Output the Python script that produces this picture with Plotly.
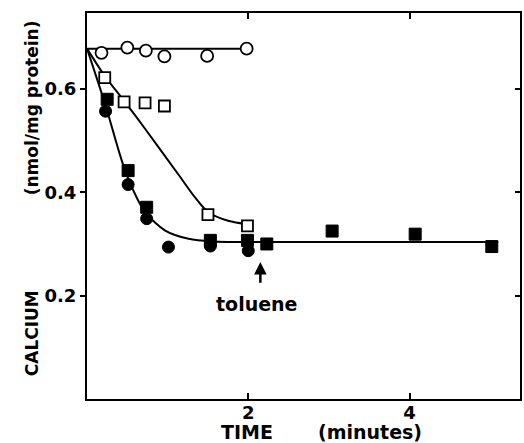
import plotly.graph_objects as go

# ---- data ----
control_t = [0.18, 0.50, 0.73, 0.96, 1.49, 1.98]
control_ca = [0.670, 0.680, 0.674, 0.663, 0.664, 0.678]

open_sq_t = [0.22, 0.46, 0.72, 0.96, 1.50, 1.99]
open_sq_ca = [0.622, 0.575, 0.573, 0.567, 0.357, 0.335]

filled_sq_t = [0.25, 0.51, 0.74, 1.53, 1.99, 2.23, 3.04, 4.07, 5.02]
filled_sq_ca = [0.580, 0.442, 0.371, 0.307, 0.307, 0.300, 0.325, 0.319, 0.295]

filled_ci_t = [0.23, 0.51, 0.74, 1.01, 1.53, 2.00]
filled_ci_ca = [0.557, 0.415, 0.349, 0.294, 0.296, 0.287]

# hand-drawn curves
control_fit_t = [0.0, 2.0]
control_fit_ca = [0.678, 0.678]

open_fit_t = [0.0, 0.22, 0.46, 0.72, 1.14, 1.34, 1.50, 1.75, 2.0]
open_fit_ca = [0.678, 0.625, 0.577, 0.523, 0.433, 0.390, 0.362, 0.345, 0.338]

filled_fit_t = [0.0, 0.23, 0.48, 0.72, 0.97, 1.26, 1.55, 2.5, 5.1]
filled_fit_ca = [0.678, 0.568, 0.439, 0.362, 0.326, 0.310, 0.305, 0.304, 0.304]

x_ticks = [2, 4]
x_tick_labels = ["2", "4"]
y_ticks = [0.2, 0.4, 0.6]
y_tick_labels = ["0.2", "0.4", "0.6"]

toluene_t = 2.15
toluene_head = 0.265
toluene_tail = 0.222

FONT = "DejaVu Sans"
BLACK = "black"

fig = go.Figure()

line_style = dict(color=BLACK, width=2)
for t, ca, shape in [(control_fit_t, control_fit_ca, "linear"),
                     (open_fit_t, open_fit_ca, "spline"),
                     (filled_fit_t, filled_fit_ca, "spline")]:
    fig.add_trace(go.Scatter(x=t, y=ca, mode="lines", line=dict(line_style, shape=shape, smoothing=0.8),
                             hoverinfo="skip", showlegend=False))

fig.add_trace(go.Scatter(x=control_t, y=control_ca, mode="markers", showlegend=False,
                         marker=dict(symbol="circle", size=12, color="white",
                                     line=dict(color=BLACK, width=1.8))))
fig.add_trace(go.Scatter(x=open_sq_t, y=open_sq_ca, mode="markers", showlegend=False,
                         marker=dict(symbol="square", size=11, color="white",
                                     line=dict(color=BLACK, width=1.8))))
fig.add_trace(go.Scatter(x=filled_sq_t, y=filled_sq_ca, mode="markers", showlegend=False,
                         marker=dict(symbol="square", size=12, color=BLACK,
                                     line=dict(color=BLACK, width=1))))
fig.add_trace(go.Scatter(x=filled_ci_t, y=filled_ci_ca, mode="markers", showlegend=False,
                         marker=dict(symbol="circle", size=12, color=BLACK,
                                     line=dict(color=BLACK, width=1))))
# invisible trace to activate right-side axis
fig.add_trace(go.Scatter(x=[0], y=[0], yaxis="y2", mode="markers",
                         marker=dict(opacity=0), hoverinfo="skip", showlegend=False))

tick_font = dict(family=FONT, size=18, color=BLACK, weight="bold")

fig.update_layout(
    width=524, height=443,
    margin=dict(l=87, r=2, t=13, b=44),
    paper_bgcolor="white", plot_bgcolor="white",
    xaxis=dict(range=[0, 5.37], tickvals=x_ticks, ticktext=x_tick_labels,
               ticks="inside", ticklen=6, tickwidth=2, tickcolor=BLACK,
               showline=True, linecolor=BLACK, linewidth=2, mirror="ticks",
               showgrid=False, zeroline=False, tickfont=tick_font,
               ticklabelstandoff=-4),
    yaxis=dict(range=[0, 0.747], tickvals=y_ticks, ticktext=y_tick_labels,
               ticks="outside", ticklen=5, tickwidth=2, tickcolor=BLACK,
               showline=True, linecolor=BLACK, linewidth=2, mirror=True,
               showgrid=False, zeroline=False, tickfont=tick_font),
    yaxis2=dict(range=[0, 0.747], tickvals=y_ticks, overlaying="y", side="right",
                ticks="inside", ticklen=5, tickwidth=2, tickcolor=BLACK,
                showticklabels=False, showline=False, showgrid=False, zeroline=False),
)

title_font = dict(family=FONT, size=19, color=BLACK, weight="bold")
ytitle_font = dict(family=FONT, size=17, color=BLACK, weight="bold")

fig.add_annotation(text="TIME", xref="paper", yref="paper", x=(247.5 - 87) / 435,
                   y=-33 / 386, xanchor="center", yanchor="middle",
                   showarrow=False, font=title_font)
fig.add_annotation(text="(minutes)", xref="paper", yref="paper", x=(371.5 - 87) / 435,
                   y=-33 / 386, xanchor="center", yanchor="middle",
                   showarrow=False, font=title_font)
fig.add_annotation(text="CALCIUM", xref="paper", yref="paper", x=(32 - 87) / 435,
                   y=(399 - 333) / 386, xanchor="center", yanchor="middle", textangle=-90,
                   showarrow=False, font=ytitle_font)
fig.add_annotation(text="(nmol/mg protein)", xref="paper", yref="paper", x=(32 - 87) / 435,
                   y=(399 - 108) / 386, xanchor="center", yanchor="middle", textangle=-90,
                   showarrow=False, font=ytitle_font)

# toluene arrow and label
fig.add_annotation(x=toluene_t, y=toluene_head, ax=toluene_t, ay=toluene_tail,
                   xref="x", yref="y", axref="x", ayref="y", text="",
                   showarrow=True, arrowhead=2, arrowsize=1, arrowwidth=2.5, arrowcolor=BLACK)
fig.add_annotation(text="toluene", x=2.10, y=0.184, xref="x", yref="y",
                   xanchor="center", yanchor="middle", showarrow=False, font=title_font)

fig.write_html("out.html", config={"displayModeBar": False},
               post_script="document.body.style.margin='0';document.body.style.overflow='hidden';")
